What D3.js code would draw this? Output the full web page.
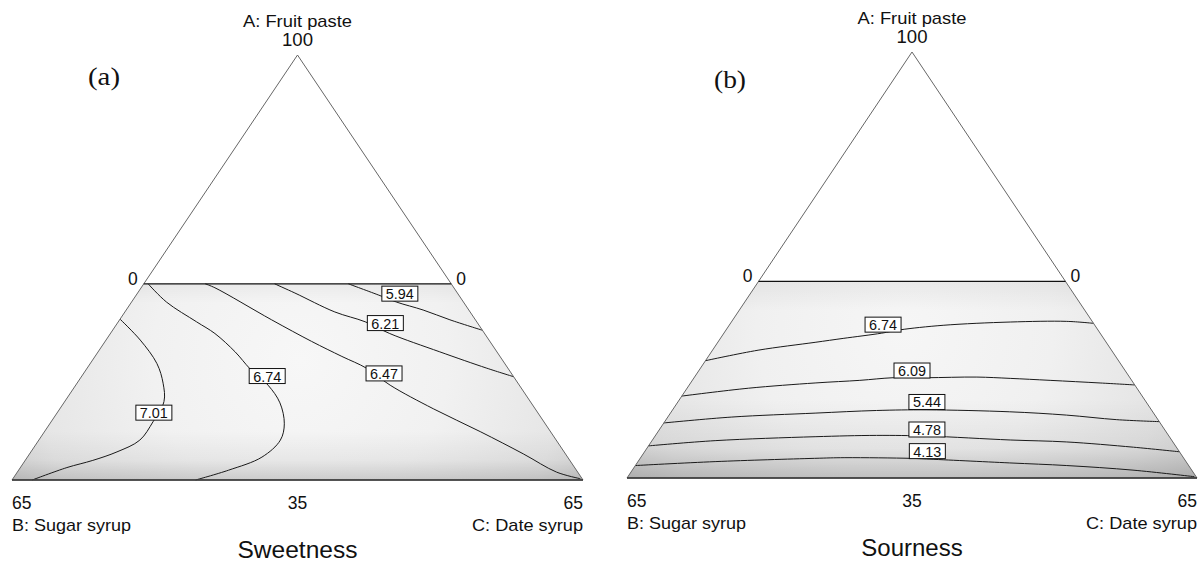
<!DOCTYPE html>
<html>
<head>
<meta charset="utf-8">
<script src="https://cdn.jsdelivr.net/npm/d3@7"></script>
<style>
  html, body { margin: 0; padding: 0; background: #fff; }
  svg { display: block; }
  text { font-family: "Liberation Sans", Arial, sans-serif; fill: #111; }
</style>
</head>
<body>
<svg id="chart" width="1200" height="564"></svg>
<script>
// ---------------- DATA (compositions in %, points given as [B, C]; A = 100 - B - C) ----------------
const componentNames = ["A: Fruit paste", "B: Sugar syrup", "C: Date syrup"];
const apexTick = "100";
const cornerTicks = ["0", "0"];
const baseTicks = ["65", "35", "65"];
const panelTitles = ["Sweetness", "Sourness"];
const panelTags = ["(a)", "(b)"];

// Sweetness contour levels and lines
const sweetLevels = ["7.01", "6.74", "6.47", "6.21", "5.94"];
const sweet701 = [[40.4,0],[39.7,3.9],[39.6,7.6],[40.4,9.8],[41.7,11.3],[44.5,11.6],[47.4,11.5],[50.9,9.8],[54.3,7.7],[57.8,5.3],[62.7,2.3]];
const sweet674 = [[34.5,0.5],[33.8,4.0],[31.9,8.9],[30.7,11.9],[29.8,15.6],[29.4,18.6],[28.6,21.9],[28.6,24.6],[29.7,26.7],[31.4,27.5],[34.8,26.7],[39.6,23.9],[44.1,20.9]];
const sweet647 = [[28.0,7.0],[27.2,8.4],[23.2,17.3],[20.3,23.5],[18.0,28.1],[16.1,31.8],[14.7,35.8],[11.6,42.5],[8.0,49.6],[4.8,56.2],[2.4,61.4],[0.2,64.6]];
const sweet621 = [[20.1,14.9],[18.5,17.9],[15.4,23.9],[12.7,28.1],[10.8,31.8],[6.5,38.9],[2.4,45.5],[0,49.2]];
const sweet594 = [[11.7,23.3],[9.0,27.8],[7.6,30.2],[5.2,33.8],[2.9,37.6],[0,42.1]];
const sweetLabelPos = [[43.7,11.0],[28.0,21.1],[14.5,34.2],[10.5,30.5],[6.6,29.9]];

// Sourness contour levels and lines
const sourLevels = ["6.74", "6.09", "5.44", "4.78", "4.13"];
const sour674 = [[47.1,0],[40.3,5.2],[33.2,11.1],[29.7,14.0],[24.9,18.0],[22.6,19.8],[17.3,24.4],[9.4,31.8],[2.9,38.2],[0,41.4]];
const sour609 = [[52.5,0],[44.3,7.0],[36.3,14.2],[31.0,19.1],[27.0,22.7],[23.2,26.5],[17.4,32.2],[13.7,36.1],[9.3,40.8],[3.8,46.7],[0,50.8]];
const sour544 = [[56.6,0],[48.4,7.3],[38.6,16.5],[31.4,23.3],[25.6,29.0],[16.3,38.6],[10.1,45.3],[4.7,51.4],[0,56.4]];
const sour478 = [[60.1,0],[52.1,7.2],[40.4,18.3],[33.3,25.2],[27.6,31.0],[18.4,40.8],[12.1,47.4],[4.9,55.4],[0,61.0]];
const sour413 = [[63.1,0],[53.7,8.8],[42.1,19.9],[38.6,23.3],[31.2,30.8],[29.4,32.7],[20.2,42.5],[13.9,49.2],[6.7,57.1],[0.2,64.6]];
const sourLabelPos = [[24.1,17.5],[24.3,24.3],[25.0,28.4],[27.1,30.5],[28.7,32.2]];

// design-region bounds (A from 35 to 65)
const regionA = [35, 65];
const fullA = [35, 100];
const diffDomain = [-65, 65];

// ---------------- DRAWING ----------------
const svg = d3.select("#chart");
const defs = svg.append("defs");

function fitText(sel, target) {
  const w = sel.node().getComputedTextLength();
  if (w > 0 && Math.abs(w - target) > 1) {
    sel.attr("textLength", target).attr("lengthAdjust", "spacingAndGlyphs");
  }
  return sel;
}

function drawPanel(cfg) {
  const x = d3.scaleLinear().domain(diffDomain).range([cfg.xL, cfg.xR]);
  const y = d3.scaleLinear().domain(fullA).range([cfg.yBase, cfg.yApex]);
  // project composition [B, C] -> pixel
  const P = d => [x(d[1] - d[0]), y(100 - d[0] - d[1])];
  const PA = (a, b) => P([b, 100 - a - b]); // from A and B

  const g = svg.append("g");

  // trapezoid (design region): A in [35,65]
  const aTop = regionA[1], aBot = regionA[0];
  const trap = [PA(aTop, 100 - aTop), PA(aTop, 0), PA(aBot, 0), PA(aBot, 100 - aBot)];
  const trapPath = "M" + trap.map(p => p.join(",")).join("L") + "Z";

  const id = cfg.id;
  const rg = defs.append("radialGradient").attr("id", id + "rad")
    .attr("gradientUnits", "userSpaceOnUse")
    .attr("cx", cfg.hx).attr("cy", cfg.hy).attr("r", cfg.hr);
  cfg.radStops.forEach(s => rg.append("stop").attr("offset", s[0]).attr("stop-color", s[1]));
  const lg = defs.append("linearGradient").attr("id", id + "lin")
    .attr("gradientUnits", "userSpaceOnUse")
    .attr("x1", 0).attr("x2", 0).attr("y1", trap[0][1]).attr("y2", trap[2][1]);
  cfg.linStops.forEach(s => lg.append("stop").attr("offset", s[0]).attr("stop-color", "#000").attr("stop-opacity", s[1]));

  g.append("path").attr("d", trapPath).attr("fill", `url(#${id}rad)`);
  g.append("path").attr("d", trapPath).attr("fill", `url(#${id}lin)`);

  // contours
  const line = d3.line().curve(d3.curveCatmullRom.alpha(0.5));
  cfg.lines.forEach(pts => {
    g.append("path").attr("d", line(pts.map(P)))
      .attr("fill", "none").attr("stroke", "#1a1a1a").attr("stroke-width", 1);
  });

  // outer triangle
  const tri = [PA(100, 0), PA(35, 65), PA(35, 0)];
  g.append("path").attr("d", "M" + tri.map(p => p.join(",")).join("L") + "Z")
    .attr("fill", "none").attr("stroke", "#666").attr("stroke-width", 1);
  g.append("line").attr("x1", trap[0][0]).attr("y1", trap[0][1]).attr("x2", trap[1][0]).attr("y2", trap[1][1])
    .attr("stroke", "#111").attr("stroke-width", 1.2);
  g.append("line").attr("x1", trap[3][0]).attr("y1", trap[3][1]).attr("x2", trap[2][0]).attr("y2", trap[2][1])
    .attr("stroke", "#333").attr("stroke-width", 1.4);

  // contour labels
  cfg.labelPos.forEach((pos, i) => {
    const p = P(pos);
    const lab = g.append("g");
    const t = lab.append("text").attr("x", p[0]).attr("y", p[1] + 5.5)
      .attr("text-anchor", "middle").attr("font-size", 15).attr("fill", "#222").text(cfg.levels[i]);
    fitText(t, 28);
    lab.insert("rect", "text").attr("x", p[0] - 18).attr("y", p[1] - 7.5)
      .attr("width", 36).attr("height", 15)
      .attr("fill", "#fff").attr("stroke", "#111").attr("stroke-width", 1);
  });

  // axis texts
  const ap = PA(100, 0);
  fitText(g.append("text").attr("x", ap[0]).attr("y", ap[1] - 28).attr("text-anchor", "middle")
    .attr("font-size", 17).text(componentNames[0]), 109);
  fitText(g.append("text").attr("x", ap[0]).attr("y", ap[1] - 9).attr("text-anchor", "middle")
    .attr("font-size", 17.5).text(apexTick), 31);

  g.append("text").attr("x", trap[0][0] - 6).attr("y", trap[0][1] + 1).attr("text-anchor", "end")
    .attr("font-size", 17.5).text(cornerTicks[0]);
  g.append("text").attr("x", trap[1][0] + 5).attr("y", trap[1][1] + 1).attr("text-anchor", "start")
    .attr("font-size", 17.5).text(cornerTicks[1]);

  const bl = PA(35, 65), br = PA(35, 0), bm = P([32.5, 32.5]);
  fitText(g.append("text").attr("x", bl[0]).attr("y", bl[1] + 29).attr("text-anchor", "start").attr("font-size", 17.5).text(baseTicks[0]), 20);
  fitText(g.append("text").attr("x", bm[0]).attr("y", bm[1] + 29).attr("text-anchor", "middle").attr("font-size", 17.5).text(baseTicks[1]), 20);
  fitText(g.append("text").attr("x", br[0]).attr("y", br[1] + 29).attr("text-anchor", "end").attr("font-size", 17.5).text(baseTicks[2]), 20);
  fitText(g.append("text").attr("x", bl[0]).attr("y", bl[1] + 51).attr("text-anchor", "start").attr("font-size", 17).text(componentNames[1]), 119);
  fitText(g.append("text").attr("x", br[0]).attr("y", br[1] + 51).attr("text-anchor", "end").attr("font-size", 17).text(componentNames[2]), 111);
  fitText(g.append("text").attr("x", bm[0]).attr("y", bm[1] + 78).attr("text-anchor", "middle").attr("font-size", 24).text(cfg.title), cfg.titleW);

  fitText(g.append("text").attr("x", cfg.tagX).attr("y", cfg.tagY)
    .style("font-family", "'Liberation Serif', 'Times New Roman', serif")
    .attr("font-size", 25).text(cfg.tag), 32);
}

drawPanel({
  id: "pa", xL: 12, xR: 583, yBase: 480, yApex: 55,
  hx: 300, hy: 360, hr: 330,
  radStops: [[0, "#f7f7f7"], [0.45, "#f1f1f1"], [0.8, "#e6e6e6"], [1, "#d4d4d4"]],
  linStops: [[0, 0.04], [0.1, 0.0], [0.75, 0.0], [0.9, 0.05], [1, 0.16]],
  lines: [sweet701, sweet674, sweet647, sweet621, sweet594],
  levels: sweetLevels, labelPos: sweetLabelPos,
  title: panelTitles[0], titleW: 120, tag: panelTags[0], tagX: 88, tagY: 85
});

drawPanel({
  id: "pb", xL: 627, xR: 1197, yBase: 478, yApex: 52,
  hx: 905, hy: 330, hr: 330,
  radStops: [[0, "#f6f6f6"], [0.45, "#f0f0f0"], [0.8, "#e4e4e4"], [1, "#d6d6d6"]],
  linStops: [[0, 0.05], [0.15, 0.0], [0.6, 0.0], [0.85, 0.06], [1, 0.2]],
  lines: [sour674, sour609, sour544, sour478, sour413],
  levels: sourLevels, labelPos: sourLabelPos,
  title: panelTitles[1], titleW: 102, tag: panelTags[1], tagX: 714, tagY: 88
});
</script>
</body>
</html>
